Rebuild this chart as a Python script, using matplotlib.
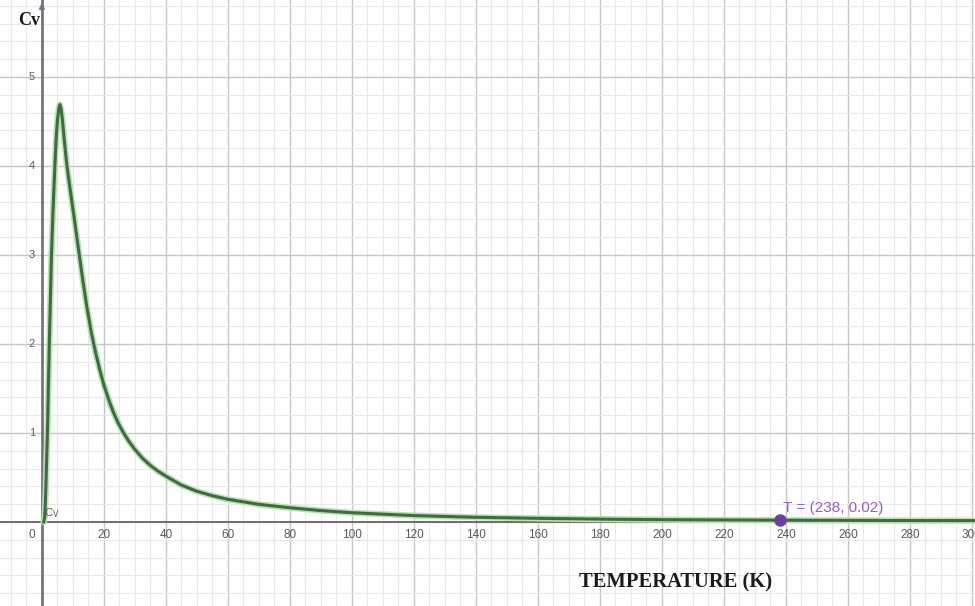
import matplotlib
matplotlib.use("Agg")
import matplotlib.pyplot as plt
import numpy as np

# ---- data ----
temperature = [0.6, 0.9, 1.1, 1.3, 1.5, 1.8, 2.1, 2.4, 2.75, 3.1, 3.6, 4.2, 4.6,
               5.0, 5.4, 5.8, 6.2, 6.6, 7.0, 7.5, 8.0, 8.6, 9.2, 10.5, 12.0,
               13.2, 14.5, 16.0, 17.3, 18.6, 20.0, 21.5, 23.0, 24.5, 26.2, 28.0,
               30.0, 32.5, 35.0, 37.5, 40.0, 45.0, 50.0, 55.0, 60.0, 70.0, 80.0,
               90.0, 100.0, 120.0, 140.0, 160.0, 180.0, 200.0, 238.0, 260.0,
               280.0, 305.0]
cv = [0.0, 0.05, 0.2, 0.4, 0.65, 1.0, 1.5, 2.0, 2.5, 3.0, 3.5, 4.0, 4.3,
      4.5, 4.63, 4.69, 4.64, 4.53, 4.38, 4.2, 4.03, 3.87, 3.72, 3.4, 3.02,
      2.72, 2.42, 2.12, 1.91, 1.72, 1.54, 1.38, 1.24, 1.12, 1.01, 0.91,
      0.815, 0.715, 0.635, 0.57, 0.515, 0.415, 0.345, 0.295, 0.255, 0.198, 0.16,
      0.128, 0.104, 0.072, 0.053, 0.041, 0.032, 0.026, 0.02, 0.018,
      0.016, 0.015]
x_major = list(range(0, 301, 20))
x_tick_labels = [str(v) for v in x_major]
y_major = [1, 2, 3, 4, 5]
y_tick_labels = [str(v) for v in y_major]
point_T = 238
point_cv = 0.02
point_label = "T = (238, 0.02)"

# ---- figure ----
fig = plt.figure(figsize=(9.75, 6.06), dpi=100)
ax = fig.add_axes([0, 0, 1, 1])
for s in ax.spines.values():
    s.set_visible(False)

ax.set_xticks(np.arange(-20, 320, 20))
ax.set_xticks(np.arange(-15, 305, 5), minor=True)
ax.set_yticks(np.arange(-1, 7, 1))
ax.set_yticks(np.arange(-1, 6, 0.2), minor=True)
ax.set_xlim(-13.5, 301)
ax.set_ylim(-0.944, 5.865)
ax.tick_params(which="both", length=0, labelbottom=False, labelleft=False)
ax.grid(which="major", color="#c6c6c6", linewidth=1.0)
ax.grid(which="minor", color="#e9e9e9", linewidth=0.8)
ax.set_axisbelow(True)

# axes lines
ax.axhline(0, color="#6e6e6e", linewidth=1.4, zorder=2)
ax.axvline(0, color="#7a7284", linewidth=2.0, zorder=2)
ax.annotate("", xy=(0, 5.865), xytext=(0, 5.70),
            arrowprops=dict(arrowstyle="-|>", color="#7a7284", lw=1.2,
                            mutation_scale=8), zorder=3)

# tick labels
for xv, lab in zip(x_major, x_tick_labels):
    ax.text(xv - (3.2 if xv == 0 else 0), -0.15, lab, ha="center", va="center",
            fontsize=8.5, color="#5a5a5a", family="Liberation Sans")
for yv, lab in zip(y_major, y_tick_labels):
    ax.text(-3.2, yv, lab, ha="center", va="center", fontsize=8,
            color="#5a5a5a", family="Liberation Sans")

# curve
ax.plot(temperature, cv, color="#b8e2b0", linewidth=4.5, solid_capstyle="round",
        solid_joinstyle="round", zorder=4)
ax.plot(temperature, cv, color="#3f6b42", linewidth=2.2, solid_joinstyle="round",
        zorder=5)

# curve label
ax.text(0.6, 0.02, r"C$_\mathrm{V}$", fontsize=8, color="#555555",
        ha="left", va="bottom", family="Liberation Sans", zorder=6)

# point
ax.plot([point_T], [point_cv], "o", color="#6a3fa0", markersize=8, zorder=7)
ax.text(point_T + 1.0, 0.155, point_label, color="#9a5cc4",
        fontsize=11, ha="left", va="center", family="Liberation Sans", zorder=7)

# axis labels
ax.text(-4.0, 5.64, "Cv", fontsize=13, fontweight="bold", family="Liberation Serif",
        ha="center", va="center", color="#1a1a1a")
ax.text(204.4, -0.685, "TEMPERATURE (K)", fontsize=14.8, fontweight="bold",
        family="Liberation Serif", ha="center", va="center", color="#1a1a1a")

fig.savefig("out.png", dpi=100)
